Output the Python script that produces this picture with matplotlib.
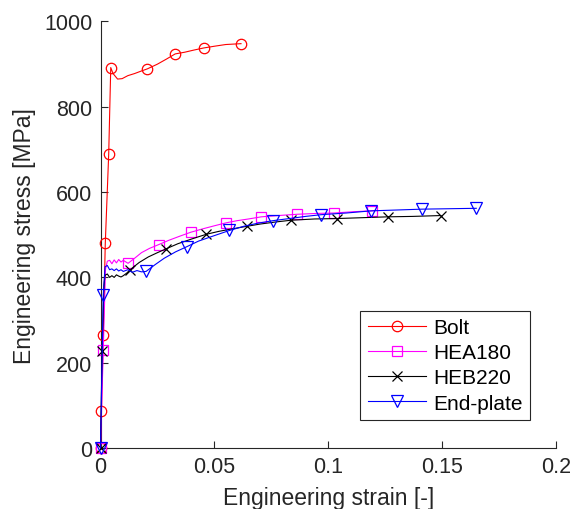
import matplotlib
matplotlib.use("Agg")
import matplotlib.pyplot as plt

# ---- data ----
bolt_strain = [0, 0.0004, 0.0012, 0.0021, 0.0036, 0.0045, 0.0055, 0.0075, 0.0095, 0.012, 0.015, 0.018,
               0.0206, 0.025, 0.029, 0.0328, 0.037, 0.041, 0.0454, 0.050, 0.055, 0.0617]
bolt_stress = [0, 86, 264, 480, 689, 892, 878, 865, 866, 873, 878, 884,
               889, 900, 912, 924, 928, 933, 938, 942, 946, 948]
bolt_marks = [0, 1, 2, 3, 4, 5, 12, 15, 18, 21]

hea_strain = [0, 0.0012, 0.0022, 0.003, 0.004, 0.005, 0.006, 0.007, 0.008, 0.009, 0.010, 0.0121,
              0.015, 0.018, 0.0215, 0.0256, 0.030, 0.035, 0.0397, 0.045, 0.050, 0.0552, 0.060,
              0.065, 0.0706, 0.078, 0.0863, 0.095, 0.1027, 0.111, 0.119, 0.121]
hea_stress = [0, 229, 420, 438, 440, 432, 441, 434, 442, 436, 440, 433,
              445, 458, 468, 477, 487, 497, 506, 514, 521, 528, 533,
              537, 542, 545, 548, 550, 551, 554, 556, 557]
hea_marks = [0, 1, 11, 15, 18, 21, 24, 26, 28, 30]

heb_strain = [0, 0.0007, 0.0015, 0.002, 0.003, 0.004, 0.005, 0.006, 0.007, 0.008, 0.009, 0.010,
              0.0115, 0.013, 0.017, 0.021, 0.025, 0.0288, 0.034, 0.040, 0.0464, 0.052, 0.058,
              0.0645, 0.070, 0.077, 0.0836, 0.094, 0.1039, 0.115, 0.1261, 0.137, 0.1494]
heb_stress = [0, 227, 380, 405, 408, 400, 404, 400, 406, 403, 401, 404,
              410, 418, 435, 448, 458, 467, 479, 490, 501, 508, 514,
              520, 525, 530, 534, 537, 538, 540, 542, 543, 545]
heb_marks = [0, 1, 13, 17, 20, 23, 26, 28, 30, 32]

ep_strain = [0, 0.0012, 0.002, 0.003, 0.004, 0.005, 0.006, 0.007, 0.008, 0.009, 0.010, 0.012,
             0.014, 0.016, 0.018, 0.020, 0.024, 0.028, 0.033, 0.0379, 0.043, 0.050, 0.0566,
             0.063, 0.069, 0.0757, 0.083, 0.090, 0.0968, 0.108, 0.1188, 0.130, 0.141, 0.153, 0.165]
ep_stress = [0, 358, 425, 428, 418, 420, 416, 420, 415, 418, 414, 418,
             412, 416, 413, 414, 430, 445, 460, 472, 485, 498, 510,
             520, 527, 533, 538, 543, 547, 551, 556, 558, 560, 561, 562]
ep_marks = [0, 1, 15, 19, 22, 25, 28, 30, 32, 34]

labels = ["Bolt", "HEA180", "HEB220", "End-plate"]
xticks = [0, 0.05, 0.1, 0.15, 0.2]
xticklabels = ["0", "0.05", "0.1", "0.15", "0.2"]
yticks = [0, 200, 400, 600, 800, 1000]

# ---- plot ----
plt.rcParams['font.family'] = ['Liberation Sans', 'DejaVu Sans']
axcol = '#262626'

fig = plt.figure(figsize=(5.72, 5.10), dpi=100)
ax = fig.add_axes([0.1757, 0.1196, 0.7963, 0.8363])

ax.plot(bolt_strain, bolt_stress, color='#ff0000', lw=0.8, marker='o', ms=7.5,
        mfc='none', mec='#ff0000', mew=0.9, markevery=bolt_marks, label=labels[0],
        clip_on=False, zorder=3)
ax.plot(hea_strain, hea_stress, color='#ff00ff', lw=0.8, marker='s', ms=6.5,
        mfc='none', mec='#ff00ff', mew=0.9, markevery=hea_marks, label=labels[1],
        clip_on=False, zorder=3)
ax.plot(heb_strain, heb_stress, color='#000000', lw=0.8, marker='x', ms=6.5,
        mec='#000000', mew=0.9, markevery=heb_marks, label=labels[2],
        clip_on=False, zorder=3)
ax.plot(ep_strain, ep_stress, color='#0000ff', lw=0.8, marker='v', ms=8.5,
        mfc='none', mec='#0000ff', mew=0.9, markevery=ep_marks, label=labels[3],
        clip_on=False, zorder=3)

ax.set_xlim(0, 0.2)
ax.set_ylim(0, 1000)
ax.set_xticks(xticks)
ax.set_xticklabels(xticklabels)
ax.set_yticks(yticks)

for s in ['top', 'right']:
    ax.spines[s].set_visible(False)
for s in ['left', 'bottom']:
    ax.spines[s].set_color(axcol)
    ax.spines[s].set_linewidth(0.8)
ax.tick_params(direction='in', length=5, width=0.8, colors=axcol, labelsize=15.5, pad=6)

ax.set_xlabel('Engineering strain [-]', fontsize=16.5, color=axcol, labelpad=6)
ax.set_ylabel('Engineering stress [MPa]', fontsize=16.5, color=axcol, labelpad=6)

leg = ax.legend(loc='lower right', bbox_to_anchor=(0.943, 0.0657), borderaxespad=0,
                fontsize=15, handlelength=2.8, handletextpad=0.35, labelspacing=0.3,
                borderpad=0.35, fancybox=False, framealpha=1, edgecolor=axcol)
leg.get_frame().set_linewidth(0.8)
leg.set_zorder(5)

fig.savefig('out.png', dpi=100)
